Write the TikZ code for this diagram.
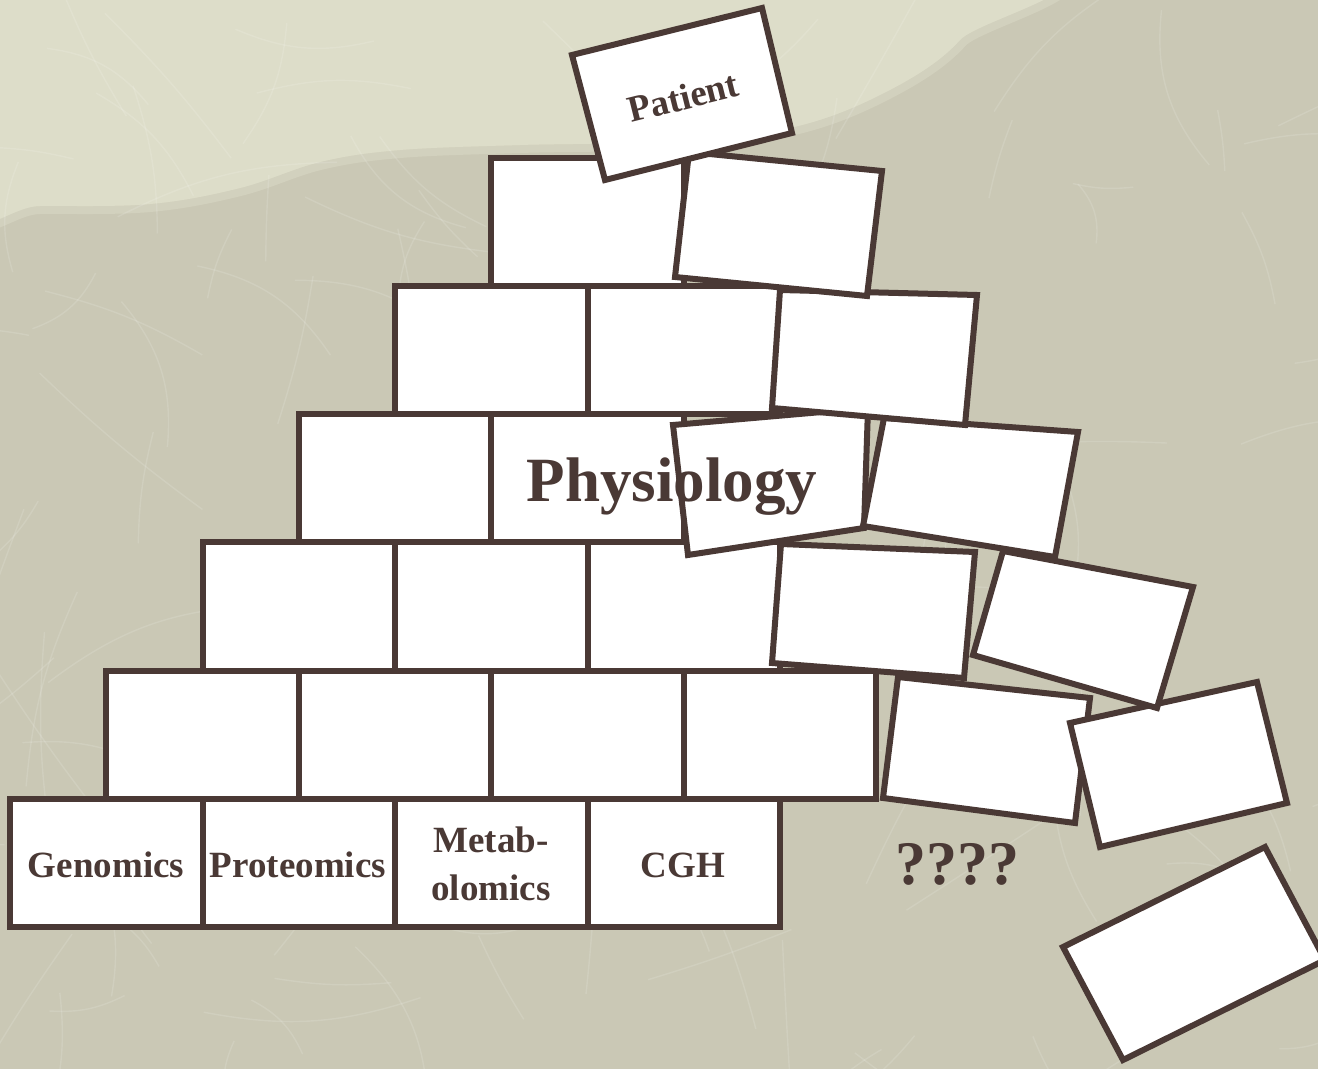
\documentclass[tikz,border=0pt]{standalone}
\usepackage{fontspec}
\setmainfont{Liberation Serif}
\definecolor{ink}{HTML}{4A3935}
\definecolor{paper}{HTML}{CAC8B5}
\definecolor{paperlight}{HTML}{DDDDC9}
\begin{document}
\begin{tikzpicture}[x=0.5pt,y=-0.5pt,
  brick/.style={fill=white, draw=ink, line width=3pt, line join=miter},
  lbl/.style={text=ink, inner sep=0pt, anchor=base,
    font=\fontsize{18.5}{22}\bfseries\selectfont},
  biglbl/.style={text=ink, inner sep=0pt, anchor=base,
    font=\fontsize{31.5}{36}\bfseries\selectfont},
  fibre/.style={white, opacity=0.13, line width=0.7pt},
]
% paper background
\useasboundingbox (0,0) rectangle (1318,1069);
\clip (0,0) rectangle (1318,1069);
\fill[paper] (0,0) rectangle (1318,1069);
\def\lightpatch{plot[smooth cycle, tension=0.6] coordinates {
  (-40,-40) (1000,-40) (960,40) (880,95) (780,130) (640,142) (520,145)
  (400,150) (320,162) (240,188) (150,204) (40,206) (-40,206)}}
\fill[paperlight, opacity=0.45] [line width=14pt] \lightpatch;
\draw[paperlight, opacity=0.45, line width=8pt] \lightpatch;
\fill[paperlight] \lightpatch;

% faint fibres of the paper
\pgfmathsetseed{11}
\foreach \k in {1,...,160}{
  \pgfmathsetmacro{\sx}{rnd*1400-40}
  \pgfmathsetmacro{\sy}{rnd*1150-40}
  \pgfmathsetmacro{\ang}{rnd*360}
  \pgfmathsetmacro{\len}{60+rnd*170}
  \pgfmathsetmacro{\bnd}{rnd*50-25}
  \draw[fibre] (\sx,\sy) to[bend left=\bnd] ++(\ang:\len);
}

% straight courses of the pyramid (row 0 at the bottom)
\foreach \row/\count in {0/4,1/4,2/3,3/2,4/2,5/1}{
  \pgfmathsetmacro{\lx}{10+96.25*\row}
  \pgfmathsetmacro{\ty}{927-128.2*(\row+1)}
  \foreach \i in {1,...,\count}{
    \draw[brick] ({\lx+192.5*(\i-1)},\ty) rectangle ++(192.5,128.2);
  }
}

% loose bricks tumbling down the right side
\filldraw[brick] (781,544) -- (975,552) -- (964,678) -- (772,663) -- cycle;   % course 2
\filldraw[brick] (673,425) -- (868,408) -- (864,528) -- (688,555) -- cycle;   % course 3
\filldraw[brick] (898,677) -- (1090,698) -- (1075,823) -- (883,798) -- cycle; % course 1
\filldraw[brick] (1070,723) -- (1257,682) -- (1287,803) -- (1100,847) -- cycle;
\filldraw[brick] (1003,551) -- (1193,587) -- (1157,708) -- (973,655) -- cycle;
\filldraw[brick] (884,418) -- (1078,432) -- (1055,557) -- (863,526) -- cycle;
\filldraw[brick] (780,290) -- (977,295) -- (965,425) -- (772,408) -- cycle;   % course 4
\filldraw[brick] (689,152) -- (882,171) -- (867,296) -- (675,277) -- cycle;   % course 5
\filldraw[brick] (572,55) -- (762,8) -- (792,133) -- (605,180) -- cycle;      % top
\filldraw[brick] (1063,947) -- (1265,847) -- (1325,960) -- (1123,1060) -- cycle;

% labels of the foundation
\node[lbl] (genomics) at (106,877) {Genomics};
\node[lbl] (proteomics) at (298,877) {Proteomics};
\node[lbl] (metab) at (491,852) {Metab-};
\node[lbl] (olomics) at (491,900) {olomics};
\node[lbl] (cgh) at (683,877) {CGH};

% other labels
\node[lbl, anchor=center, rotate=14] (patient) at (683,97) {Patient};
\node[biglbl] (physiology) at (672,502) {Physiology};
\node[biglbl, font=\fontsize{31}{36}\bfseries\selectfont] (unknown) at (957,884) {????};
\end{tikzpicture}
\end{document}
